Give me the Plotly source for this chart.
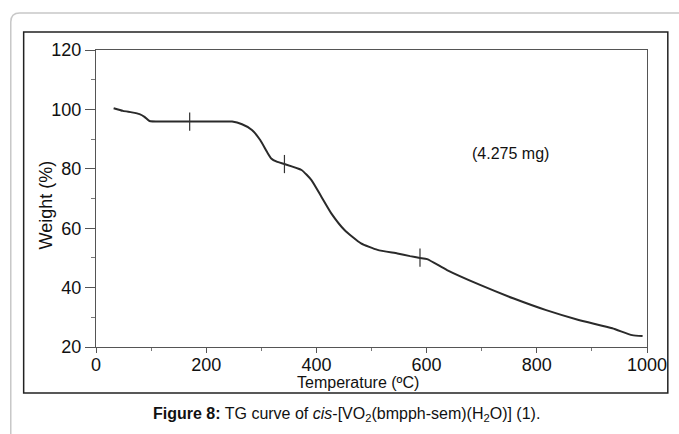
import plotly.graph_objects as go

# TG curve
temperature = [32, 49, 65, 79, 88, 97, 120, 170, 210, 247, 265, 283, 298, 310, 318, 328,
               342, 373, 391, 409, 427, 451, 481, 511, 547, 570, 588, 601, 637, 697, 757,
               817, 876, 937, 973, 992]
weight = [100.4, 99.5, 99.0, 98.4, 97.5, 96.1, 95.9, 95.9, 95.9, 95.9, 95.0, 93.1, 89.7,
          85.8, 83.5, 82.4, 81.6, 79.6, 76.2, 70.6, 65.0, 59.4, 54.9, 52.7, 51.5, 50.6,
          50.0, 49.6, 45.9, 40.9, 36.4, 32.4, 29.1, 26.3, 24.0, 23.7]

# cross marks on the curve
mark_t = [170, 342, 588]
mark_w = [95.9, 81.6, 50.1]

x_ticks = [0, 200, 400, 600, 800, 1000]
y_ticks = [20, 40, 60, 80, 100, 120]

W, H = 679, 434
L, R, T, B = 96, 652, 50, 347


def px(x):
    return (x - L) / (R - L)


def py(y):
    return (B - y) / (B - T)


fig = go.Figure()
fig.add_trace(go.Scatter(x=temperature, y=weight, mode="lines",
                         line=dict(color="#2a2a2a", width=2, shape="spline", smoothing=0.5),
                         hoverinfo="skip"))
fig.add_trace(go.Scatter(x=mark_t, y=mark_w, mode="markers",
                         marker=dict(symbol="line-ns", size=13,
                                     line=dict(color="#333", width=1.2)),
                         hoverinfo="skip"))

# outer rounded light border
x0, y0, x1, y1, r = 10, 13, 700, 460, 9
path = (f"M {px(x0)},{py(y0 + r)} L {px(x0)},{py(y1)} L {px(x1)},{py(y1)} "
        f"L {px(x1)},{py(y0)} L {px(x0 + r)},{py(y0)} Q {px(x0)},{py(y0)} {px(x0)},{py(y0 + r)} Z")
shapes = [
    dict(type="path", xref="paper", yref="paper", path=path,
         line=dict(color="#c8c8c8", width=1.5), layer="below"),
    dict(type="rect", xref="paper", yref="paper", x0=px(23), y0=py(32), x1=px(673), y1=py(393),
         line=dict(color="#222", width=1.5), layer="below"),
]

annotations = [
    dict(text="Temperature (ºC)", x=px(360), y=py(382), xref="paper", yref="paper",
         xanchor="center", yanchor="middle", showarrow=False, font=dict(size=16)),
    dict(text="Weight (%)", x=px(46), y=py(205), xref="paper", yref="paper",
         xanchor="center", yanchor="middle", showarrow=False, textangle=-90,
         font=dict(size=18)),
    dict(text="(4.275 mg)", x=752, y=85, xanchor="center", yanchor="middle",
         showarrow=False, font=dict(size=16)),
    dict(text="<b>Figure 8:</b> TG curve of <i>cis</i>-[VO<sub>2</sub>(bmpph-sem)(H<sub>2</sub>O)] (1).",
         x=px(349), y=py(414), xref="paper", yref="paper", xanchor="center",
         yanchor="middle", showarrow=False, font=dict(size=16)),
]

fig.update_layout(
    width=W, height=H,
    margin=dict(l=L, r=W - R, t=T, b=H - B),
    paper_bgcolor="white", plot_bgcolor="white",
    showlegend=False,
    font=dict(family="Liberation Sans, Arial, sans-serif", color="#111"),
    shapes=shapes, annotations=annotations,
    xaxis=dict(range=[0, 1000], tickvals=x_ticks, ticktext=[str(v) for v in x_ticks],
               showgrid=False, zeroline=False, showline=True, mirror=True,
               linecolor="#555", linewidth=1.2, ticks="outside", ticklen=5,
               tickcolor="#555", tickfont=dict(size=18), ticklabelstandoff=-4,
               minor=dict(dtick=100, ticks="outside", ticklen=3, tickcolor="#777")),
    yaxis=dict(range=[20, 120], tickvals=y_ticks, ticktext=[str(v) for v in y_ticks],
               showgrid=False, zeroline=False, showline=True, mirror=True,
               linecolor="#555", linewidth=1.2, ticks="outside", ticklen=10,
               tickcolor="#555", tickfont=dict(size=18),
               minor=dict(dtick=10, ticks="outside", ticklen=4, tickcolor="#777")),
)

fig.write_html("out.html")
